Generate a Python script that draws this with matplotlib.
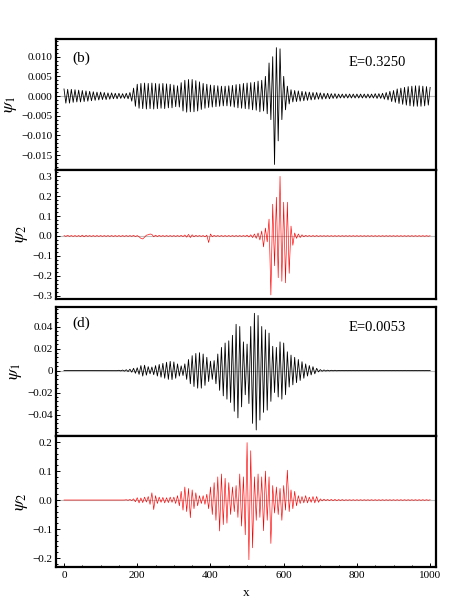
import numpy as np
import matplotlib
matplotlib.use('Agg')
import matplotlib.pyplot as plt
from matplotlib.ticker import MultipleLocator, FuncFormatter

# lattice sites are sampled every 5 units along x
step = 5

# panel (b), E=0.3250 -- psi_1 in units of 1e-3
psi1_b = np.array([
    1.8, -1.8, 1.7, -1.8, 1.7, -1.6, 1.6, -1.5, 1.5, -1.5, 1.4, -1.4, 1.3, -1.3, 1.2, -1.2, 1.1, -1.1, 1.0, -1.0,
    1.0, -0.9, 0.9, -0.9, 0.8, -0.8, 0.8, -0.7, 0.7, -0.7, 0.7, -0.6, 0.6, -0.6, 0.7, -0.7, 0.9, -1.3, 2.0, -2.6,
    3.0, -3.1, 3.2, -3.2, 3.3, -3.3, 3.2, -3.2, 3.3, -3.3, 3.2, -3.2, 3.1, -3.1, 3.2, -3.2, 3.1, -3.0, 3.0, -3.0,
    2.8, -2.7, 2.6, -2.8, 3.4, -3.8, 4.0, -4.1, 4.2, -4.0, 4.2, -4.0, 3.9, -3.8, 3.6, -3.4, 3.2, -3.1, 3.0, -2.9,
    2.8, -2.8, 2.7, -2.7, 2.6, -2.6, 2.5, -2.5, 2.5, -2.5, 2.6, -2.6, 2.7, -2.8, 2.9, -3.0, 3.0, -3.1, 3.2, -3.2,
    3.3, -3.3, 3.4, -3.5, 3.5, -3.6, 3.8, -4.0, 4.0, -3.8, 5.0, -4.5, 8.4, -6.0, 10.0, -17.4, 12.3, -11.4, 12.0, -6.0,
    5.0, -3.5, 2.5, -2.0, 1.6, -1.5, 1.4, -1.4, 1.3, -1.3, 1.2, -1.2, 1.1, -1.1, 1.0, -1.0, 0.9, -0.9, 0.9, -0.8,
    0.8, -0.8, 0.7, -0.7, 0.7, -0.7, 0.6, -0.6, 0.6, -0.6, 0.5, -0.5, 0.5, -0.5, 0.5, -0.5, 0.5, -0.5, 0.5, -0.5,
    0.5, -0.5, 0.5, -0.5, 0.5, -0.5, 0.5, -0.5, 0.5, -0.5, 0.6, -0.6, 0.6, -0.6, 0.7, -0.8, 0.9, -1.0, 1.2, -1.4,
    1.4, -1.6, 1.8, -1.9, 2.0, -2.1, 2.2, -2.3, 2.4, -2.5, 2.5, -2.6, 2.6, -2.6, 2.6, -2.6, 2.5, -2.5, 2.4, -2.3, 2.2,
]) * 1e-3

# panel (b), E=0.3250 -- psi_2
psi2_b = np.array([
    0.002, -0.002, 0.003, -0.002, 0.002, -0.002, 0.002, -0.002, 0.002, -0.003, 0.004, -0.004, 0.003, -0.002, 0.002, -0.002, 0.002, -0.002, 0.002, -0.002,
    0.002, -0.002, 0.002, -0.002, 0.002, -0.002, 0.002, -0.002, 0.002, -0.002, 0.002, -0.002, 0.002, -0.002, 0.002, -0.002, 0.002, -0.002, 0.003, -0.003,
    0.002, -0.004, -0.012, -0.015, -0.006, 0.004, 0.006, 0.010, 0.008, -0.004, 0.004, -0.003, 0.003, -0.002, 0.002, -0.002, 0.002, -0.002, 0.002, -0.002,
    0.002, -0.002, 0.002, -0.002, 0.003, -0.003, 0.005, -0.006, 0.008, -0.008, 0.006, -0.004, 0.003, -0.002, 0.002, -0.002, 0.002, -0.004, 0.004, -0.033,
    0.010, -0.004, 0.003, -0.002, 0.002, -0.002, 0.002, -0.002, 0.002, -0.002, 0.002, -0.002, 0.002, -0.002, 0.002, -0.002, 0.002, -0.002, 0.002, -0.002,
    0.004, -0.005, 0.006, -0.008, 0.010, -0.012, 0.015, -0.020, 0.025, -0.055, 0.040, -0.030, 0.085, -0.297, 0.160, -0.150, 0.195, -0.210, 0.300, -0.228,
    0.170, -0.236, 0.170, -0.188, 0.050, -0.047, 0.015, -0.012, 0.010, -0.008, 0.006, -0.004, 0.003, -0.002, 0.002, -0.002, 0.002, -0.002, 0.002, -0.002,
    0.0015, -0.0015, 0.0015, -0.0015, 0.0015, -0.0015, 0.0015, -0.0015, 0.0015, -0.0015, 0.0015, -0.0015, 0.0015, -0.0015, 0.0015, -0.0015, 0.0015, -0.0015, 0.0015, -0.0015,
    0.0015, -0.0015, 0.0015, -0.0015, 0.0015, -0.0015, 0.0015, -0.0015, 0.0015, -0.0015, 0.0015, -0.0015, 0.0015, -0.0015, 0.0015, -0.0015, 0.0015, -0.0015, 0.0015, -0.0015,
    0.0015, -0.0015, 0.0015, -0.0015, 0.0015, -0.0015, 0.0015, -0.0015, 0.0015, -0.0015, 0.0015, -0.0015, 0.0015, -0.0015, 0.0015, -0.0015, 0.0015, -0.0015, 0.0015, -0.0015, 0.0015,
])

# panel (d), E=0.0053 -- psi_1 in units of 1e-3
psi1_d = np.array([
    0.0, 0.0, 0.0, 0.0, 0.0, 0.0, 0.0, 0.0, 0.0, 0.0, 0.0, 0.0, 0.0, 0.0, 0.0, 0.0, 0.0, 0.0, 0.0, 0.0,
    0.0, 0.0, 0.0, 0.0, 0.0, 0.0, 0.0, 0.0, 0.1, -0.1, 0.2, -0.3, 0.4, -0.5, 0.7, -0.9, 1.2, -1.5, 2.0, -2.5,
    2.5, -3.5, 4.5, -5.0, 4.8, -4.2, 3.5, -3.0, 3.2, -3.8, 4.5, -5.0, 5.5, -6.0, 6.5, -7.0, 7.5, -8.0, 8.3, -8.2,
    7.8, -7.0, 6.0, -5.0, 4.2, -4.5, 6.0, -8.0, 10.0, -12.0, 13.5, -14.5, 15.5, -16.0, 16.2, -16.0, 15.0, -13.5, 12.0, -10.0,
    8.5, -8.0, 9.0, -12.0, 15.0, -18.0, 21.0, -23.0, 25.0, -26.0, 27.0, -29.0, 32.0, -37.0, 42.0, -43.0, 40.0, -33.0, 26.0, -22.0,
    24.0, -30.0, 40.0, -48.0, 52.0, -54.0, 50.0, -45.0, 40.0, -38.0, 37.0, -36.0, 34.0, -28.0, 22.0, -20.0, 21.0, -24.0, 26.0, -26.0,
    25.0, -22.0, 17.0, -15.0, 14.0, -13.0, 12.0, -11.0, 10.0, -9.0, 8.0, -7.0, 6.0, -5.0, 4.5, -4.0, 3.5, -3.0, 2.0, -1.2,
    0.8, -0.6, 0.5, -0.4, 0.3, -0.3, 0.2, -0.2, 0.2, -0.2, 0.1, -0.1, 0.1, -0.1, 0.1, -0.1, 0.1, -0.1, 0.1, -0.1,
    0.1, -0.1, 0.1, -0.1, 0.1, -0.1, 0.1, -0.1, 0.1, -0.1, 0.1, -0.1, 0.1, -0.1, 0.1, -0.1, 0.1, -0.1, 0.1, -0.1,
    0.1, -0.1, 0.1, -0.1, 0.1, -0.1, 0.1, -0.1, 0.1, -0.1, 0.1, -0.1, 0.1, -0.1, 0.1, -0.1, 0.1, -0.1, 0.1, -0.1, 0.1,
]) * 1e-3

# panel (d), E=0.0053 -- psi_2
psi2_d = np.array([
    0.0, 0.0, 0.0, 0.0, 0.0, 0.0, 0.0, 0.0, 0.0, 0.0, 0.0, 0.0, 0.0, 0.0, 0.0, 0.0, 0.0, 0.0, 0.0, 0.0,
    0.0, 0.0, 0.0, 0.0, 0.0, 0.0, 0.0, 0.0, 0.0, 0.0, 0.0, 0.0, 0.0, 0.0, 0.001, -0.001, 0.002, -0.002, 0.004, -0.006,
    0.008, -0.010, 0.007, -0.009, 0.010, -0.007, 0.012, -0.015, 0.025, -0.033, 0.015, -0.012, 0.010, -0.008, 0.009, -0.010, 0.008, -0.009, 0.010, -0.008,
    0.010, -0.012, 0.015, -0.020, 0.030, -0.035, 0.045, -0.040, 0.040, -0.061, 0.035, -0.030, 0.025, -0.020, 0.015, -0.012, 0.015, -0.015, 0.020, -0.030,
    0.045, -0.050, 0.060, -0.070, 0.080, -0.107, 0.090, -0.085, 0.075, -0.080, 0.060, -0.050, 0.045, -0.040, 0.050, -0.060, 0.090, -0.090, 0.080, -0.120,
    0.198, -0.206, 0.170, -0.165, 0.080, -0.070, 0.090, -0.060, 0.080, -0.106, 0.100, -0.070, 0.080, -0.150, 0.050, -0.045, 0.045, -0.050, 0.040, -0.070,
    0.050, -0.035, 0.103, -0.040, 0.035, -0.030, 0.030, -0.020, 0.015, -0.012, 0.012, -0.010, 0.015, -0.010, 0.010, -0.008, 0.012, -0.010, 0.012, -0.008,
    0.004, -0.003, 0.003, -0.002, 0.002, -0.002, 0.002, -0.002, 0.002, -0.002, 0.0015, -0.0015, 0.0015, -0.0015, 0.001, -0.001, 0.001, -0.001, 0.001, -0.001,
    0.001, -0.001, 0.001, -0.001, 0.001, -0.001, 0.001, -0.001, 0.001, -0.001, 0.001, -0.001, 0.001, -0.001, 0.001, -0.001, 0.001, -0.001, 0.001, -0.001,
    0.001, -0.001, 0.001, -0.001, 0.001, -0.001, 0.001, -0.001, 0.001, -0.001, 0.001, -0.001, 0.001, -0.001, 0.001, -0.001, 0.001, -0.001, 0.001, -0.001, 0.001,
])

panel_tags = ['(b)', None, '(d)', None]
energies = ['E=0.3250', None, 'E=0.0053', None]
x_ticks = [0, 200, 400, 600, 800, 1000]

plt.rcParams['font.family'] = ['Liberation Serif', 'DejaVu Serif']
plt.rcParams['mathtext.fontset'] = 'stix'


def fmt(decimals, plain_zero=False):
    def f(v, pos):
        if abs(v) < 1e-12:
            return '0' if plain_zero else '%.*f' % (decimals, 0.0)
        s = '%.*f' % (decimals, abs(v))
        return ('\u2212' + s) if v < 0 else s
    return FuncFormatter(f)


def draw_panel(ax, psi, color, lw, ylim, major, minor, formatter, ylabel):
    x = np.arange(len(psi)) * step
    ax.axhline(0, color='#bdbdbd', lw=0.8, zorder=1)
    ax.plot(x, psi, color=color, lw=lw, zorder=2)
    ax.set_xlim(-23, 1016)
    ax.set_ylim(*ylim)
    ax.yaxis.set_major_locator(MultipleLocator(major))
    ax.yaxis.set_minor_locator(MultipleLocator(minor))
    ax.yaxis.set_major_formatter(formatter)
    ax.set_ylabel(ylabel, fontsize=12.5, labelpad=2)
    for sp in ax.spines.values():
        sp.set_linewidth(1.6)
    ax.tick_params(axis='y', which='both', direction='in', labelsize=8, pad=2,
                   right=False, width=0.7)
    ax.tick_params(axis='y', which='major', length=3)
    ax.tick_params(axis='y', which='minor', length=1.6)
    ax.tick_params(axis='x', which='both', bottom=False, top=False, labelbottom=False)


fig = plt.figure(figsize=(4.52, 6.0), dpi=100)
left, width = 0.123, 0.8416
ax1 = fig.add_axes([left, 0.7167, width, 0.2183])
ax2 = fig.add_axes([left, 0.5017, width, 0.2150])
ax3 = fig.add_axes([left, 0.2733, width, 0.2150])
ax4 = fig.add_axes([left, 0.0550, width, 0.2183])

draw_panel(ax1, psi1_b, 'black', 0.6, (-0.0188, 0.0145), 0.005, 0.001, fmt(3), r'$\psi_1$')
draw_panel(ax2, psi2_b, '#ff0000', 0.45, (-0.317, 0.332), 0.1, 0.02, fmt(1), r'$\psi_2$')
draw_panel(ax3, psi1_d, 'black', 0.6, (-0.0595, 0.0577), 0.02, 0.004, fmt(2, plain_zero=True), r'$\psi_1$')
draw_panel(ax4, psi2_d, '#ff0000', 0.45, (-0.231, 0.2207), 0.1, 0.02, fmt(1), r'$\psi_2$')

for ax, tag, en, ty in [(ax1, panel_tags[0], energies[0], 0.85), (ax3, panel_tags[2], energies[2], 0.875)]:
    ax.text(0.043, ty, tag, transform=ax.transAxes, fontsize=11, va='center', ha='left')
    ax.text(0.769, ty - 0.03, en, transform=ax.transAxes, fontsize=10.5, va='center', ha='left')

ax4.set_xticks(x_ticks)
ax4.xaxis.set_minor_locator(MultipleLocator(50))
ax4.tick_params(axis='x', which='both', bottom=True, labelbottom=True, direction='in',
                labelsize=8, pad=3, width=0.7)
ax4.tick_params(axis='x', which='major', length=3)
ax4.tick_params(axis='x', which='minor', length=1.6)
ax4.set_xlabel('x', fontsize=9.5, labelpad=5)

fig.savefig('out.png', dpi=100)
